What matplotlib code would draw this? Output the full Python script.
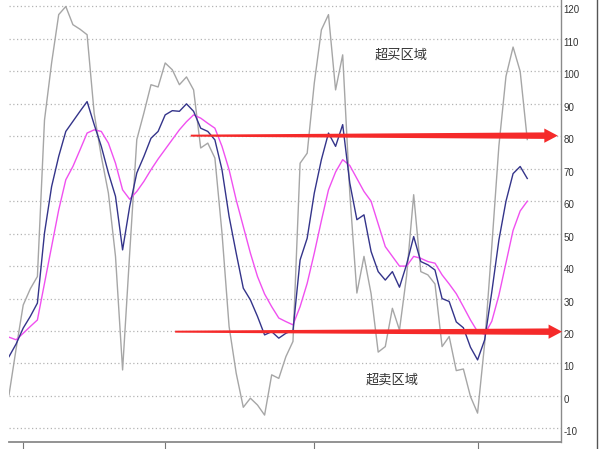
import matplotlib
matplotlib.use("Agg")
import matplotlib.pyplot as plt
from matplotlib.lines import Line2D
from matplotlib.transforms import ScaledTranslation

# ---- data (KDJ indicator) ----
j_values = [0.3, 14.5, 28, 33, 36.8, 85, 102.6, 117.5, 120, 114.4, 113, 111.3, 87, 73.8,
            62.5, 43, 8, 44, 79, 87.2, 95.9, 95.2, 102.6, 100.5, 95.9, 98.3, 94.3, 76.4,
            77.9, 73.3, 50.2, 21.4, 7, -3.5, -0.7, -2.8, -5.9, 6.5, 5.4, 12.1, 16.8, 71.7,
            74.8, 96.4, 112.8, 117.5, 94.3, 105.1, 62.5, 31.7, 43, 31.5, 13.5, 15.2, 27,
            20.3, 37, 62, 38.3, 37.3, 34.5, 15.2, 18.3, 7.8, 8.3, -0.2, -5.3, 16.2, 46,
            77, 98.5, 107.5, 100, 79]
k_values = [12.1, 16, 20.9, 24.5, 28.6, 50.2, 64.5, 73.8, 81.5, 84.6, 87.7, 90.7, 83.6,
            76.9, 68.7, 61.5, 45, 58.4, 68.7, 73.8, 79.4, 81.5, 86.6, 87.9, 87.7, 90,
            87.7, 82.5, 81.5, 78.9, 69.7, 55.3, 44, 33.2, 29.6, 24.5, 18.8, 19.8, 17.8,
            19.3, 20.2, 41.9, 48.6, 62.5, 72.8, 81, 76.9, 83.6, 65.6, 54.3, 55.8, 44.5,
            38.3, 35.7, 38.3, 33.5, 40.5, 49.1, 41.4, 40.4, 38.8, 30, 29.1, 22.8, 21, 15,
            11.1, 17.3, 32, 48, 60, 68.5, 70.7, 67]
d_values = [18.1, 17.3, 19.3, 21.4, 23.4, 34.7, 46, 57.3, 66.6, 70.7, 75.8, 81, 82, 81.5,
            77.9, 71.7, 63.5, 60.6, 63, 66.1, 69.7, 73, 76, 79, 82, 84.5, 86.6, 85.6, 84,
            82.5, 76.9, 69.7, 60.4, 52.2, 44, 36.8, 31.4, 27.5, 24, 22.9, 21.9, 27.5,
            34.7, 44, 54, 63.5, 69, 72.8, 71, 67, 63, 60, 53, 46, 43, 40, 40, 43, 42.4,
            41.4, 40.9, 37.3, 34.5, 31.5, 27.5, 23.4, 19.8, 19, 23, 31, 41, 51, 57, 60]
y_ticks = [-10, 0, 10, 20, 30, 40, 50, 60, 70, 80, 90, 100, 110, 120]
x_ticks = [2, 22, 43, 66]
overbought_level = 80
oversold_level = 20
overbought_label = "超买区域"
oversold_label = "超卖区域"

plt.rcParams['font.family'] = ['Noto Sans CJK SC', 'DejaVu Sans']

fig = plt.figure(figsize=(6.07, 4.49), dpi=100)
ax = fig.add_axes([9 / 607, 1 - 442 / 449, (561 - 9) / 607, 442 / 449])

idx = list(range(len(j_values)))

# grid
for v in y_ticks:
    ax.axhline(v, color='#b4b4b4', linewidth=0.9, linestyle=(0, (1, 2)), zorder=0)

ax.plot(idx, j_values, color='#a6a6a6', linewidth=1.0, zorder=2)
ax.plot(idx, d_values, color='#f050f0', linewidth=1.0, zorder=3)
ax.plot(idx, k_values, color='#34348a', linewidth=1.0, zorder=4)


def tapered_arrow(x0, tip, y, head_len=1.9, t0=0.3, t1=1.0, hh=2.2):
    hb = tip - head_len
    xs = [x0, hb, hb, tip, hb, hb, x0]
    ys = [y + t0, y + t1, y + hh, y, y - hh, y - t1, y - t0]
    ax.fill(xs, ys, color='#f52a2a', linewidth=0, zorder=5, clip_on=False)


tapered_arrow(25.6, 77.3, overbought_level + 0.2)
tapered_arrow(23.4, 77.9, oversold_level - 0.2)

ax.text(55.2, 105.0, overbought_label, fontsize=9.5, color='#333333',
        ha='center', va='center')
ax.text(54.0, 4.8, oversold_label, fontsize=9.5, color='#333333',
        ha='center', va='center')

ax.set_xlim(0, 77.75)
ax.set_ylim(-14.2, 122.0)

ax.yaxis.tick_right()
ax.set_yticks(y_ticks)
ax.set_yticklabels([str(v) for v in y_ticks], family=['Liberation Sans'],
                   fontsize=7, color='#333333')
ax.tick_params(axis='y', length=0, pad=2)
shift = ScaledTranslation(0, -3 / 100, fig.dpi_scale_trans)
for lab in ax.get_yticklabels():
    lab.set_transform(lab.get_transform() + shift)
ax.set_xticks(x_ticks)
ax.set_xticklabels([])
ax.tick_params(axis='x', length=5, width=0.8, color='#777777', direction='out')

for s in ['top', 'left']:
    ax.spines[s].set_visible(False)
ax.spines['right'].set_color('#8a8a8a')
ax.spines['bottom'].set_color('#8a8a8a')
ax.spines['right'].set_linewidth(1.0)
ax.spines['bottom'].set_linewidth(1.3)

# outer panel border at the right
fig.add_artist(Line2D([597 / 607, 597 / 607], [0, 1], transform=fig.transFigure,
                      color='#555555', linewidth=1.0))

fig.savefig('out.png', dpi=100)
